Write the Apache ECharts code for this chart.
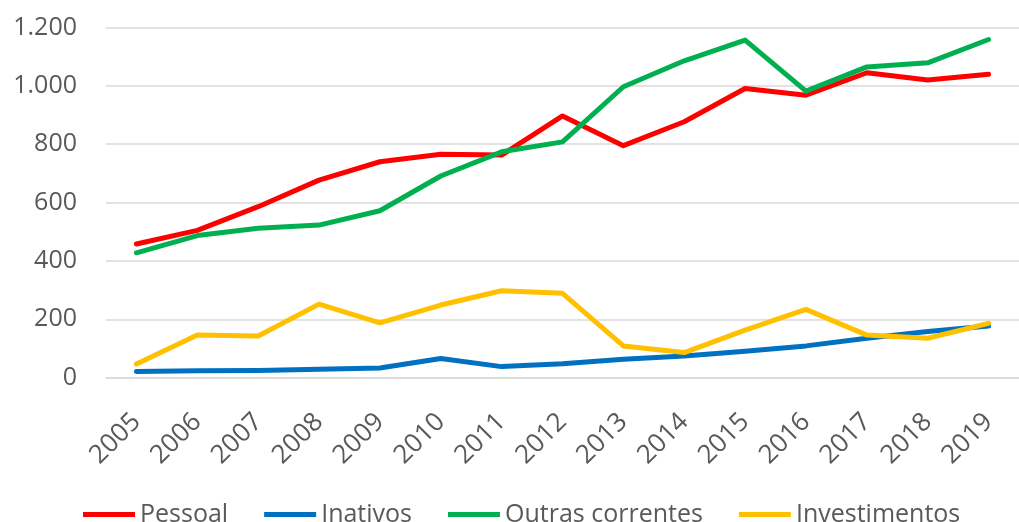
<!DOCTYPE html>
<html>
<head>
<meta charset="utf-8">
<script src="https://cdn.jsdelivr.net/npm/echarts@6/dist/echarts.min.js"></script>
<style>html,body{margin:0;padding:0;background:#fff;}#c{width:1019px;height:522px;}</style>
</head>
<body>
<div id="c"></div>
<script>
var years = ['2005','2006','2007','2008','2009','2010','2011','2012','2013','2014','2015','2016','2017','2018','2019'];
var pessoal = [458, 505, 586, 677, 740, 766, 763, 897, 795, 877, 991, 968, 1045, 1020, 1040];
var inativos = [21, 24, 25, 29, 33, 66, 38, 48, 63, 74, 91, 109, 135, 158, 177];
var outras = [428, 487, 512, 523, 572, 691, 774, 808, 997, 1086, 1157, 982, 1065, 1079, 1159];
var investimentos = [47, 146, 143, 252, 188, 249, 298, 289, 109, 86, 163, 234, 146, 135, 186];
var yTicks = [0, 200, 400, 600, 800, 1000, 1200];

var chart = echarts.init(document.getElementById('c'), null, {renderer: 'canvas'});
var font = 'Open Sans';
function mk(name, data, color) {
  return {name: name, type: 'line', data: data, symbol: 'none', smooth: false,
    lineStyle: {color: color, width: 5, cap: 'round', join: 'round'}, itemStyle: {color: color}};
}
chart.setOption({
  animation: false,
  grid: {left: 106, right: -11, top: 27.5, bottom: 144.3, containLabel: false},
  xAxis: {type: 'category', data: years, boundaryGap: true,
    axisLine: {show: true, lineStyle: {color: '#d9d9d9', width: 1.5}},
    axisTick: {show: false},
    axisLabel: {rotate: 45, color: '#595959', fontFamily: font, fontSize: 26, margin: 40, interval: 0}},
  yAxis: {type: 'value', min: 0, max: 1200, interval: 200,
    axisLine: {show: false}, axisTick: {show: false},
    splitLine: {lineStyle: {color: '#d9d9d9', width: 1.5}},
    axisLabel: {color: '#595959', fontFamily: font, fontSize: 25, margin: 29,
      formatter: function (v) { return yTicks.indexOf(v) >= 0 ? String(v).replace(/\B(?=(\d{3})+(?!\d))/g, '.') : ''; }}},
  legend: {left: 78, top: 497, itemWidth: 52, itemHeight: 5, itemGap: 36, icon: 'rect',
    textStyle: {color: '#595959', fontFamily: font, fontSize: 25},
    data: ['Pessoal', 'Inativos', 'Outras correntes', 'Investimentos']},
  series: [
    mk('Pessoal', pessoal, '#ff0000'),
    mk('Inativos', inativos, '#0070c0'),
    mk('Outras correntes', outras, '#00b050'),
    mk('Investimentos', investimentos, '#ffc000')
  ]
});
</script>
</body>
</html>
